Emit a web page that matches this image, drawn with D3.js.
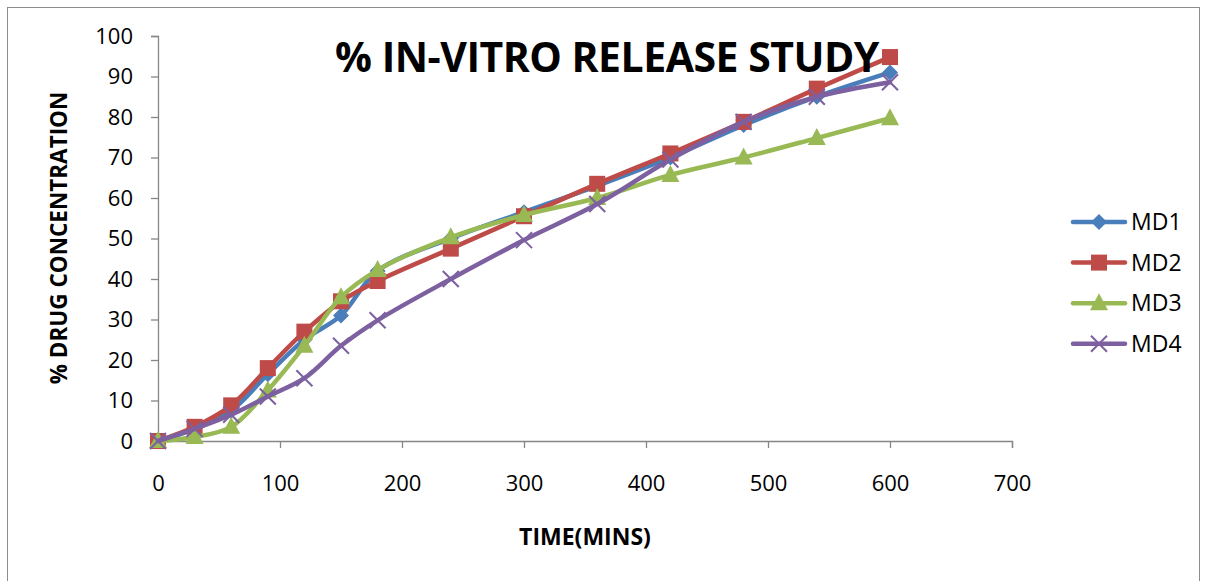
<!DOCTYPE html>
<html>
<head>
<meta charset="utf-8">
<script src="https://cdn.jsdelivr.net/npm/d3@7"></script>
<style>
  body { margin: 0; background: #fff; }
  text { font-family: "Open Sans", "Liberation Sans", sans-serif; }
</style>
</head>
<body>
<div id="chart"></div>
<script>
// Release data (time in minutes, % drug concentration)
const times = [0, 30, 60, 90, 120, 150, 180, 240, 300, 360, 420, 480, 540, 600];
const md1 = [0, 3, 7.5, 16.5, 25, 31, 42, 50, 56.5, 63, 70, 78, 85, 91];
const md2 = [0, 3.5, 8.8, 18, 27, 34.5, 39.5, 47.5, 55.5, 63.5, 71, 78.8, 87, 94.8];
const md3 = [0, 1, 3.5, 12.5, 23.5, 35.5, 42.2, 50.3, 55.8, 60, 65.7, 70, 74.8, 79.7];
const md4 = [0, 3, 6.5, 11, 15.5, 23.5, 29.8, 40, 49.6, 58.5, 69.5, 78.8, 85, 88.6];
const seriesNames = ["MD1", "MD2", "MD3", "MD4"];
const yTicks = [0, 10, 20, 30, 40, 50, 60, 70, 80, 90, 100];
const xTicks = [0, 100, 200, 300, 400, 500, 600, 700];

const W = 1208, H = 581;
const colors = ["#4a7ebb", "#be4b48", "#98b954", "#7d60a0"];
const shapes = ["diamond", "square", "triangle", "cross"];

const svg = d3.select("#chart").append("svg")
    .attr("width", W).attr("height", H);

// outer chart border
svg.append("rect")
    .attr("x", 7.5).attr("y", 7.5)
    .attr("width", 1192).attr("height", 600)
    .attr("fill", "#fff").attr("stroke", "#8c8c8c").attr("stroke-width", 1);

const x = d3.scaleLinear().domain([0, 700]).range([158, 1012]);
const y = d3.scaleLinear().domain([0, 100]).range([441, 36]);

// Axes
const axisColor = "#868686";
svg.append("g")
    .attr("transform", `translate(${x(0)},0)`)
    .call(d3.axisLeft(y).tickValues(yTicks).tickSize(7).tickPadding(18))
    .call(g => g.selectAll("path, line").attr("stroke", axisColor).attr("stroke-width", 1.3))
    .call(g => g.selectAll("text").attr("font-size", 22).attr("fill", "#000")
        .style("font-family", "'Open Sans', sans-serif"));

svg.append("g")
    .attr("transform", `translate(0,${y(0)})`)
    .call(d3.axisBottom(x).tickValues(xTicks).tickSize(7).tickPadding(27))
    .call(g => g.selectAll("path, line").attr("stroke", axisColor).attr("stroke-width", 1.3))
    .call(g => g.selectAll("text").attr("font-size", 22).attr("fill", "#000")
        .style("font-family", "'Open Sans', sans-serif"));

// Series
const data = [md1, md2, md3, md4].map((vals, i) => ({
    name: seriesNames[i],
    color: colors[i],
    shape: shapes[i],
    points: times.map((t, j) => [t, vals[j]])
}));

const line = d3.line()
    .x(d => x(d[0]))
    .y(d => y(d[1]))
    .curve(d3.curveCatmullRom.alpha(0.5));

function marker(g, shape, color, cx, cy) {
    if (shape === "diamond") {
        g.append("path")
            .attr("d", `M${cx},${cy - 8}L${cx + 8},${cy}L${cx},${cy + 8}L${cx - 8},${cy}Z`)
            .attr("fill", color);
    } else if (shape === "square") {
        g.append("rect")
            .attr("x", cx - 8).attr("y", cy - 8)
            .attr("width", 16).attr("height", 16)
            .attr("fill", color);
    } else if (shape === "triangle") {
        g.append("path")
            .attr("d", `M${cx},${cy - 10}L${cx + 9},${cy + 7}L${cx - 9},${cy + 7}Z`)
            .attr("fill", color);
    } else {
        g.append("path")
            .attr("d", `M${cx - 8},${cy - 8}L${cx + 8},${cy + 8}M${cx + 8},${cy - 8}L${cx - 8},${cy + 8}`)
            .attr("stroke", color).attr("stroke-width", 2);
    }
}

data.forEach(s => {
    const g = svg.append("g");
    g.append("path")
        .datum(s.points)
        .attr("d", line)
        .attr("fill", "none")
        .attr("stroke", s.color)
        .attr("stroke-width", 4.5)
        .attr("stroke-linejoin", "round")
        .attr("stroke-linecap", "round");
    s.points.forEach(p => marker(g, s.shape, s.color, x(p[0]), y(p[1])));
});

// Title
svg.append("text")
    .attr("x", 607).attr("y", 72)
    .attr("text-anchor", "middle")
    .attr("font-size", 41).attr("font-weight", "bold")
    .attr("letter-spacing", -0.5)
    .text("% IN-VITRO RELEASE STUDY");

// Axis titles
svg.append("text")
    .attr("x", 585).attr("y", 545)
    .attr("text-anchor", "middle")
    .attr("font-size", 23).attr("font-weight", "bold")
    .text("TIME(MINS)");

svg.append("text")
    .attr("transform", "translate(67,238) rotate(-90)")
    .attr("text-anchor", "middle")
    .attr("font-size", 22.5).attr("font-weight", "bold")
    .text("% DRUG CONCENTRATION");

// Legend
const legend = svg.append("g");
data.forEach((s, i) => {
    const ly = 222 + i * 40.6;
    legend.append("line")
        .attr("x1", 1073).attr("x2", 1125)
        .attr("y1", ly).attr("y2", ly)
        .attr("stroke", s.color).attr("stroke-width", 4.5)
        .attr("stroke-linecap", "round");
    marker(legend, s.shape, s.color, 1099, ly);
    legend.append("text")
        .attr("x", 1131).attr("y", ly)
        .attr("dy", "0.35em")
        .attr("font-size", 23)
        .text(s.name);
});
</script>
</body>
</html>
